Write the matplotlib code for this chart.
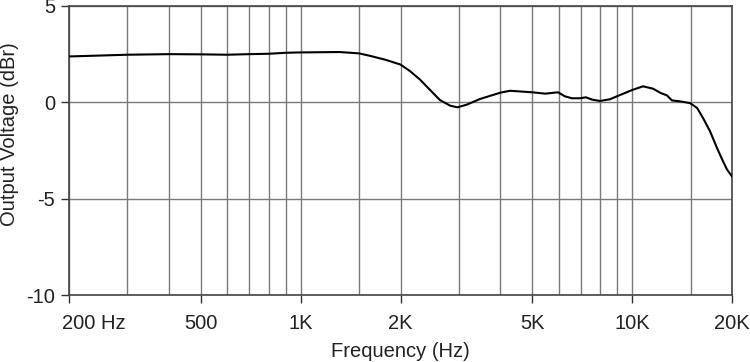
import matplotlib
matplotlib.use("Agg")
import matplotlib.pyplot as plt
import matplotlib.transforms as mtransforms
from matplotlib.ticker import FixedLocator, NullLocator

plt.rcParams['font.family'] = ['Liberation Sans', 'DejaVu Sans']

freq_hz = [200, 300, 400, 500, 600, 700, 800, 900, 1000, 1310, 1500, 1620,
           1800, 2000, 2140, 2290, 2450, 2630, 2820, 2970, 3170, 3470, 4000,
           4280, 5000, 5460, 5970, 6270, 6580, 6960, 7250, 7570, 8000, 8570,
           9190, 10000, 10780, 11550, 12200, 12730, 13180, 13940, 14940,
           15690, 16350, 17170, 18020, 18790, 19320, 20000]
level_dbr = [2.38, 2.47, 2.50, 2.49, 2.47, 2.50, 2.52, 2.57, 2.59, 2.61, 2.54,
             2.41, 2.21, 1.96, 1.61, 1.18, 0.66, 0.12, -0.17, -0.26, -0.12,
             0.17, 0.50, 0.60, 0.52, 0.45, 0.52, 0.31, 0.21, 0.21, 0.26, 0.14,
             0.07, 0.16, 0.38, 0.64, 0.83, 0.71, 0.48, 0.36, 0.10, 0.05, -0.04,
             -0.29, -0.81, -1.50, -2.37, -3.06, -3.49, -3.84]

grid_freqs = [200, 300, 400, 500, 600, 700, 800, 900, 1000, 1500, 2000, 3000,
              4000, 5000, 6000, 7000, 8000, 9000, 10000, 15000, 20000]
tick_freqs = [200, 500, 1000, 2000, 5000, 10000, 20000]
tick_labels = ['200 Hz', '500', '1K', '2K', '5K', '10K', '20K']
y_ticks = [5, 0, -5, -10]

fig = plt.figure(figsize=(7.5, 3.62), dpi=100)
ax = fig.add_axes([0.092, 0.185, 0.884, 0.7985])
ax.set_xscale('log')
ax.set_xlim(200, 20000)
ax.set_ylim(-10, 5)

for f in grid_freqs:
    ax.axvline(f, color='#7a7a7a', lw=1.0, zorder=1)
for v in y_ticks:
    ax.axhline(v, color='#7a7a7a', lw=1.0, zorder=1)

ax.plot(freq_hz, level_dbr, color='black', lw=1.5, zorder=3,
        solid_joinstyle='round')

ax.xaxis.set_major_locator(FixedLocator(tick_freqs))
ax.xaxis.set_minor_locator(NullLocator())
ax.set_xticklabels(tick_labels)
ax.set_yticks(y_ticks)
ax.set_yticklabels([str(v) for v in y_ticks])
ax.tick_params(axis='both', labelsize=14.5, colors='#333333', length=6, width=1,
               labelcolor='#222222')
ax.tick_params(axis='x', pad=8)
ax.tick_params(axis='y', pad=4)
for s in ax.spines.values():
    s.set_color('#444444')
    s.set_linewidth(1.2)

first = ax.get_xticklabels()[0]
first.set_horizontalalignment('left')
first.set_transform(first.get_transform() +
                    mtransforms.ScaledTranslation(-6.5 / 100, 0, fig.dpi_scale_trans))

ax.set_xlabel('Frequency (Hz)', fontsize=14.5, color='#222222', labelpad=6)
ax.set_ylabel('Output Voltage (dBr)', fontsize=14.5, color='#222222')
ax.yaxis.set_label_coords(-0.075, 0.557)

fig.savefig('out.png', dpi=100)
